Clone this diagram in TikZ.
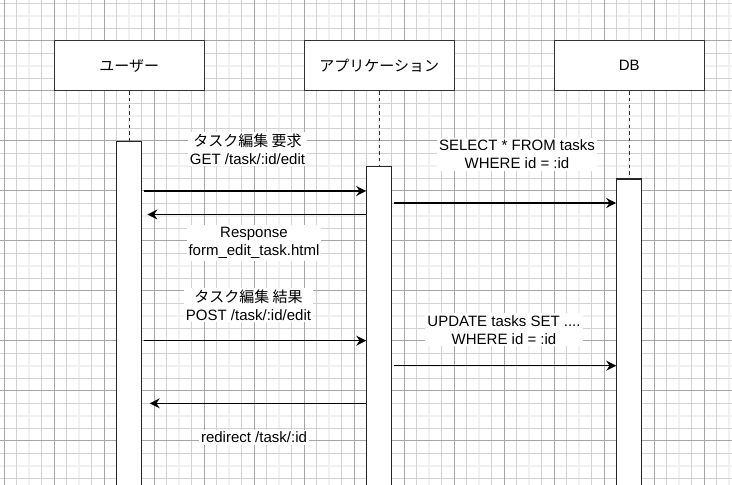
\documentclass[tikz,border=0pt]{standalone}
\usepackage{fontspec}
\setmainfont{Liberation Sans}
\newfontfamily\jpfont{Noto Sans CJK JP}
\usetikzlibrary{arrows.meta}
\tikzset{lane/.style = {draw=black!80, line width=1pt, fill=white, minimum width=112.5pt, minimum height=37.5pt, inner sep=0, font=\fontsize{11.25}{13.5}\selectfont}}
\tikzset{bar/.style = {draw=black!85, line width=0.9pt, fill=white, minimum width=18.75pt, minimum height=270pt, anchor=north, inner sep=0}}
\tikzset{life/.style = {dash pattern=on 2.5pt off 2.5pt, line width=0.8pt, black!80}}
\tikzset{msg/.style = {-{Stealth[length=7.5pt, width=7.5pt, inset=2.5pt]}, line width=0.9pt}}
\tikzset{lbl/.style = {fill=white, inner sep=1.5pt, align=center, font=\fontsize{11.25}{13.5}\selectfont}}
\tikzset{faint/.style = {gray!12, line width=1.4pt}}
\tikzset{minor/.style = {gray!35, line width=0.7pt}}
\tikzset{major/.style = {gray!70, line width=0.7pt}}

\begin{document}
\begin{tikzpicture}[x=0.75pt, y=-0.75pt]
    \useasboundingbox (0,0) rectangle (732,485);
    \clip (0,0) rectangle (732,485);
    \fill[white] (0,0) rectangle (732,485);

    % grid
    \foreach \g in {0,...,14} \draw[faint] (29.3+50*\g, 0) -- ++(0,485);
    \foreach \g in {0,...,9} \draw[faint] (0, 15.7+50*\g) -- ++(732,0);
    \foreach \g in {0,...,28} \draw[minor] (16.8+25*\g, 0) -- ++(0,485);
    \foreach \g in {0,...,19} \draw[minor] (0, 3.2+25*\g) -- ++(732,0);
    \foreach \g in {0,...,14} \draw[major] (4.3+50*\g, 0) -- ++(0,485);
    \foreach \g in {0,...,9} \draw[major] (0, 40.7+50*\g) -- ++(732,0);

    % participants
    \node[lane] (user) at (129.3,65.7) {\jpfont ユーザー};
    \node[lane] (app) at (379.3,65.7) {\jpfont アプリケーション};
    \node[lane] (db) at (629.3,65.7) {DB};

    \node[bar] (userbar) at (129.3,140.7) {};
    \node[bar] (appbar) at (379.3,165.7) {};
    \node[bar] (dbbar) at (629.3,178.3) {};

    \draw[life] (user.south) -- (userbar.north);
    \draw[life] (app.south) -- (appbar.north);
    \draw[life] (db.south) -- (dbbar.north);

    % message rows
    \coordinate (r1) at (0,191);
    \coordinate (r2) at (0,214.5);
    \coordinate (r3) at (0,203);
    \coordinate (r4) at (0,340.7);
    \coordinate (r5) at (0,365.7);
    \coordinate (r6) at (0,403.3);

    \draw[msg, shorten <=1pt] (userbar.east |- r1) -- (appbar.west |- r1);
    \draw[msg, shorten >=3.75pt] (appbar.west |- r2) -- (userbar.east |- r2);
    \draw[msg, shorten <=1pt] (appbar.east |- r3) -- (dbbar.west |- r3);
    \draw[msg, shorten <=1pt] (userbar.east |- r4) -- (appbar.west |- r4);
    \draw[msg, shorten <=1pt] (appbar.east |- r5) -- (dbbar.west |- r5);
    \draw[msg, shorten >=5.5pt] (appbar.west |- r6) -- (userbar.east |- r6);

    % labels
    \node[lbl] (getedit) at (247.5,149) {{\jpfont タスク編集 要求}\\GET /task/:id/edit};
    \node[lbl] (resp) at (254,243) {Response\\form\_edit\_task.html};
    \node[lbl] (select) at (517,154.5) {SELECT * FROM tasks\\WHERE id = :id};
    \node[lbl] (postedit) at (248.5,305) {{\jpfont タスク編集 結果}\\POST /task/:id/edit};
    \node[lbl] (update) at (504,329.7) {UPDATE tasks SET ....\\WHERE id = :id};
    \node[lbl] (redirect) at (254,437.3) {redirect /task/:id};
\end{tikzpicture}
\end{document}
